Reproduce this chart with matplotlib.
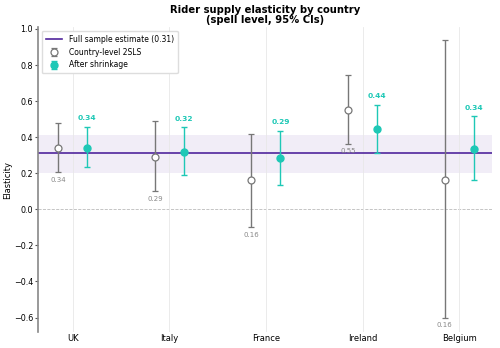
import numpy as np
import matplotlib
matplotlib.use("Agg")
import matplotlib.pyplot as plt

countries = ["UK", "Italy", "France", "Ireland", "Belgium"]

# country-level 2SLS
raw_est = [0.34, 0.29, 0.16, 0.55, 0.16]
raw_lo = [0.205, 0.10, -0.10, 0.363, -0.60]
raw_hi = [0.48, 0.49, 0.42, 0.743, 0.94]

# after shrinkage
shr_est = [0.34, 0.32, 0.287, 0.445, 0.337]
shr_lo = [0.234, 0.19, 0.137, 0.315, 0.161]
shr_hi = [0.457, 0.455, 0.436, 0.579, 0.517]
shr_lab = [0.34, 0.32, 0.29, 0.44, 0.34]

full_est = 0.31
full_lo = 0.20
full_hi = 0.41

teal = "#1ec8b6"
grey = "#777777"
purple = "#50259c"

x = np.arange(len(countries))
off = 0.15

fig = plt.figure(figsize=(5, 3.48), dpi=100)
ax = fig.add_axes([0.076, 0.046, 0.908, 0.876])

ax.axhspan(full_lo, full_hi, color=purple, alpha=0.08, lw=0, zorder=0)
ax.axhline(0, color="#bbbbbb", ls="--", lw=0.6, zorder=0)
ax.axhline(full_est, color=purple, lw=1.2, zorder=1,
           label=f"Full sample estimate ({full_est:.2f})")

raw_est_a = np.array(raw_est)
shr_est_a = np.array(shr_est)
raw_err = [raw_est_a - np.array(raw_lo), np.array(raw_hi) - raw_est_a]
shr_err = [shr_est_a - np.array(shr_lo), np.array(shr_hi) - shr_est_a]

ax.errorbar(x - off, raw_est, yerr=raw_err, fmt="o", color=grey, mfc="white",
            mec=grey, ms=5, mew=0.9, elinewidth=1.0, capsize=2.3, capthick=1.0,
            zorder=3, label="Country-level 2SLS")
ax.errorbar(x + off, shr_est, yerr=shr_err, fmt="o", color=teal, mfc=teal,
            mec=teal, ms=5, elinewidth=1.0, capsize=2.3, capthick=1.0,
            zorder=3, label="After shrinkage")

for i in range(len(countries)):
    ax.text(x[i] - off, raw_lo[i] - 0.025, f"{raw_est[i]:.2f}", ha="center",
            va="top", fontsize=5, color="#888888")
    ax.text(x[i] + off, shr_hi[i] + 0.03, f"{shr_lab[i]:.2f}", ha="center",
            va="bottom", fontsize=5.4, color=teal, fontweight="bold")

ax.set_xticks(x)
ax.set_xticklabels(countries, fontsize=6)
ax.tick_params(axis="x", length=0, pad=1.5)
ax.tick_params(axis="y", labelsize=5.8, length=2, color="#555555", pad=1.5)
ax.set_yticks(np.arange(-0.6, 1.01, 0.2))
ax.set_xlim(-0.36, 4.34)
ax.set_ylim(-0.68, 1.01)
ax.grid(axis="x", color="#e8e8e8", lw=0.6)
ax.set_axisbelow(True)
for s in ["top", "right", "bottom"]:
    ax.spines[s].set_visible(False)
ax.spines["left"].set_color("#888888")
ax.spines["left"].set_linewidth(1.2)

ax.set_ylabel("Elasticity", fontsize=6, labelpad=1.5)
ax.set_title("Rider supply elasticity by country\n(spell level, 95% CIs)",
             fontsize=7.2, fontweight="bold", linespacing=1.0, pad=3)
ax.legend(loc="upper left", fontsize=5.5, frameon=True, framealpha=1,
          edgecolor="#dddddd", borderpad=0.5, handlelength=2.2)

fig.savefig("out.png", dpi=100)
